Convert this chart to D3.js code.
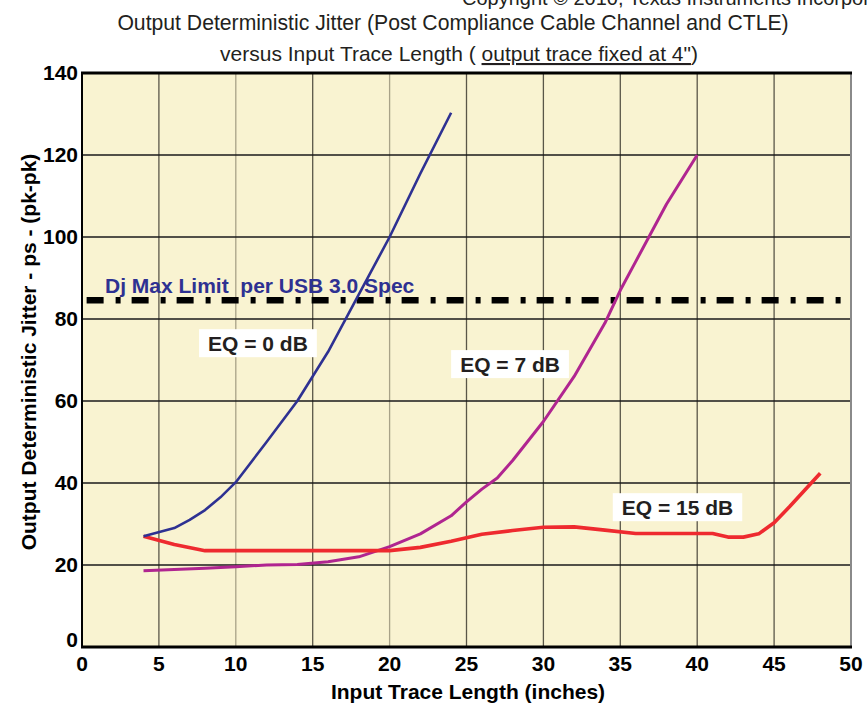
<!DOCTYPE html>
<html><head><meta charset="utf-8">
<script src="https://cdn.jsdelivr.net/npm/d3@7/dist/d3.min.js"></script>
<style>body{margin:0;background:#fff}svg{display:block}text{font-family:"Liberation Sans",Arial,sans-serif}</style>
</head><body>
<svg id="c" width="867" height="707"></svg>
<script>
const xTicks = [0,5,10,15,20,25,30,35,40,45,50];
const yTicks = [0,20,40,60,80,100,120,140];
const eq0X = [4,6,7,8,9,10,12,14,16,18,20,22,24];
const eq0Y = [27,29,31,33.4,36.5,40.2,50,60,72,86,100,115.5,130.3];
const eq7X = [4,8,10,12,14,16,18,20,22,24,25,26,27,28,30,32,34,35,36,38,40];
const eq7Y = [18.6,19.2,19.6,20,20.1,20.8,22,24.5,27.6,32,35.4,38.5,41.2,45.5,55,66,79,87,94,108,120];
const eq15X = [4,6,8,10,12,14,16,18,20,22,24,26,28,30,32,34,36,38,40,41,42,43,44,45,46,47,48];
const eq15Y = [27,25,23.5,23.5,23.5,23.5,23.5,23.5,23.5,24.3,25.8,27.5,28.4,29.2,29.3,28.5,27.7,27.7,27.7,27.7,26.8,26.8,27.6,30.3,34.2,38.3,42.4];
const djLimit = 84.6;
const titles = ["Output Deterministic Jitter (Post Compliance Cable Channel and CTLE)",
                "versus Input Trace Length ( ", "output trace fixed at 4\"", ")"];
const labels = [
  {t:"EQ = 0 dB", x:11.44, y:74.1},
  {t:"EQ = 7 dB", x:27.83, y:69.0},
  {t:"EQ = 15 dB", x:38.72, y:34.1}
];

const svg = d3.select("#c");
const L=82, R=851, T=73, B=647;
const x = d3.scaleLinear().domain([0,50]).range([L,R]);
const y = d3.scaleLinear().domain([0,140]).range([B,T]);

svg.append("rect").attr("x",L).attr("y",T).attr("width",R-L).attr("height",B-T).attr("fill","#F9F3D1");

// grid
svg.append("g").selectAll("line").data(xTicks.slice(1,-1)).join("line")
  .attr("x1",d=>x(d)).attr("x2",d=>x(d)).attr("y1",T).attr("y2",B)
  .attr("stroke",d=> (d===10||d===20)?"#a8a288":"#5a5648").attr("stroke-width",1.3);
svg.append("g").selectAll("line").data(yTicks.slice(1,-1)).join("line")
  .attr("x1",L).attr("x2",R).attr("y1",d=>y(d)).attr("y2",d=>y(d))
  .attr("stroke","#1a1a1a").attr("stroke-width",1.3);

// borders
svg.append("line").attr("x1",R).attr("x2",R).attr("y1",T).attr("y2",B).attr("stroke","#8a8a8a").attr("stroke-width",2);
svg.append("line").attr("x1",L-1).attr("x2",R+1).attr("y1",T).attr("y2",T).attr("stroke","#000").attr("stroke-width",3);
svg.append("line").attr("x1",L).attr("x2",L).attr("y1",T).attr("y2",B).attr("stroke","#000").attr("stroke-width",2);
svg.append("line").attr("x1",L-1).attr("x2",R+1).attr("y1",B).attr("y2",B).attr("stroke","#000").attr("stroke-width",3);

// limit line
svg.append("line").attr("x1",x(0.3)).attr("x2",R).attr("y1",y(djLimit)).attr("y2",y(djLimit))
  .attr("stroke","#000").attr("stroke-width",6.5).attr("stroke-dasharray","17,12,5,11");
svg.append("text").attr("x",105).attr("y",293).attr("fill","#2E3192").attr("font-weight","bold")
  .attr("font-size",21).style("white-space","pre").text("Dj Max Limit  per USB 3.0 Spec");

const line = d3.line().x(d=>x(d[0])).y(d=>y(d[1]));
function series(xs,ys,color,w){
  svg.append("path").datum(xs.map((v,i)=>[v,ys[i]])).attr("d",line)
    .attr("fill","none").attr("stroke",color).attr("stroke-width",w).attr("stroke-linejoin","round");
}
series(eq7X,eq7Y,"#B02590",3);
series(eq15X,eq15Y,"#EE2A2F",3.6);
series(eq0X,eq0Y,"#2E3192",2.6);

// labels with white boxes
labels.forEach(l=>{
  const g = svg.append("g");
  const cx = x(l.x), cy = y(l.y);
  const t = g.append("text").attr("x",cx).attr("y",cy+7.5).attr("font-weight","bold").attr("text-anchor","middle")
    .attr("font-size",21).attr("fill","#231F20").text(l.t);
  const w = t.node().getComputedTextLength();
  g.insert("rect","text").attr("x",cx-w/2-9).attr("y",cy-14).attr("width",w+18).attr("height",28).attr("fill","#fff");
});

// ticks labels
svg.append("g").selectAll("text").data(yTicks).join("text")
  .attr("x",78).attr("y",d=>y(d)+(d===0?0:7)).attr("text-anchor","end")
  .attr("font-weight","bold").attr("font-size",21).text(d=>d);
svg.append("g").selectAll("text").data(xTicks).join("text")
  .attr("x",d=>x(d)).attr("y",671).attr("text-anchor","middle")
  .attr("font-weight","bold").attr("font-size",21).text(d=>d);

// axis titles
svg.append("text").attr("x",468).attr("y",699).attr("text-anchor","middle").attr("font-weight","bold")
  .attr("font-size",21).text("Input Trace Length (inches)");
svg.append("text").attr("transform","translate(36,352) rotate(-90)").attr("text-anchor","middle").attr("font-weight","bold")
  .attr("font-size",21).text("Output Deterministic Jitter - ps - (pk-pk)");

// titles
svg.append("text").attr("x",462).attr("y",5).attr("font-size",20).attr("fill","#231F20").text("Copyright © 2010, Texas Instruments Incorporated");
svg.append("text").attr("x",453).attr("y",30).attr("text-anchor","middle").attr("font-size",21.2).attr("fill","#231F20").text(titles[0]);
const t2 = svg.append("text").attr("x",459).attr("y",61).attr("text-anchor","middle").attr("font-size",21).attr("fill","#231F20").style("white-space","pre");
t2.append("tspan").text(titles[1]);
t2.append("tspan").attr("text-decoration","underline").text(titles[2]);
t2.append("tspan").text(titles[3]);
</script>
</body></html>
